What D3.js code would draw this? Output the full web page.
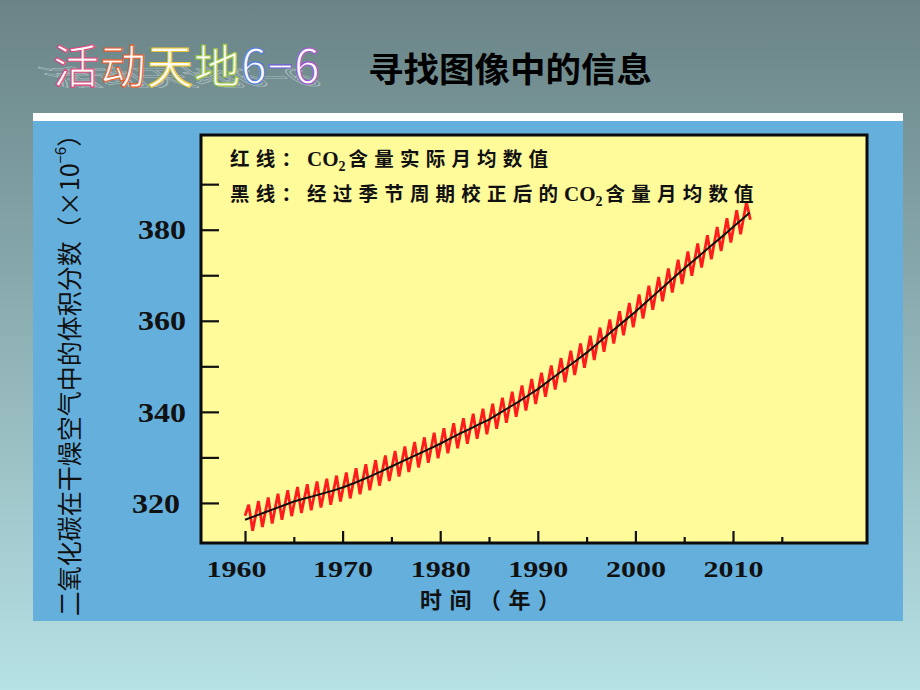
<!DOCTYPE html>
<html><head><meta charset="utf-8">
<script src="https://cdn.jsdelivr.net/npm/d3@7"></script>
<style>html,body{margin:0;padding:0;} svg{display:block}</style>
</head><body>
<svg id="c" width="920" height="690"></svg>
<script>
// ---------- data ----------
const decoChars = ["活","动","天","地","6","−","6"];
const decoColors = ["#e0457e","#e85a2a","#e8c82e","#9cc63c","#4f78e0","#6f63d6","#a04fd0"];
const mainTitle = "寻找图像中的信息";
const yAxisTitle = "二氧化碳在干燥空气中的体积分数（×10";
const yAxisTitleSup = "−6";
const xAxisTitle = "时间（年）";
const legendRedLabel = ["红线：", "含量实际月均数值"];
const legendBlackLabel = ["黑线：经过季节周期校正后的", "含量月均数值"];

const yTicks = [320, 330, 340, 350, 360, 370, 380, 390];
const yTickLabels = [320, 340, 360, 380];
const xTicks = [1960, 1965, 1970, 1975, 1980, 1985, 1990, 1995, 2000, 2005, 2010, 2015];
const xTickLabels = [1960, 1970, 1980, 1990, 2000, 2010];

// black: seasonally corrected monthly mean (read at each year start)
const trendYears = [1960,1961,1962,1963,1964,1965,1966,1967,1968,1969,1970,1971,1972,1973,1974,1975,1976,1977,1978,1979,1980,1981,1982,1983,1984,1985,1986,1987,1988,1989,1990,1991,1992,1993,1994,1995,1996,1997,1998,1999,2000,2001,2002,2003,2004,2005,2006,2007,2008,2009,2010,2011,2011.7];
const trendValues = [316.3,317.1,317.9,318.7,319.5,320.3,320.9,321.5,322.1,322.7,323.4,324.2,325.1,326.0,327.0,328.0,329.0,330.0,331.0,332.0,333.0,334.1,335.2,336.2,337.3,338.3,339.6,340.9,342.2,343.6,345.0,346.6,348.2,349.8,351.4,353.0,354.8,356.6,358.4,360.2,362.0,363.9,365.8,367.7,369.6,371.5,373.3,375.1,376.9,378.7,380.6,382.4,383.7];

// red: actual monthly mean — yearly spring peaks and autumn troughs
const seasonYears = [1960,1961,1962,1963,1964,1965,1966,1967,1968,1969,1970,1971,1972,1973,1974,1975,1976,1977,1978,1979,1980,1981,1982,1983,1984,1985,1986,1987,1988,1989,1990,1991,1992,1993,1994,1995,1996,1997,1998,1999,2000,2001,2002,2003,2004,2005,2006,2007,2008,2009,2010,2011];
const peakValues = [319.6,320.4,321.2,322.0,322.8,323.5,324.1,324.7,325.3,326.0,326.7,327.6,328.5,329.4,330.4,331.4,332.4,333.4,334.4,335.4,336.4,337.5,338.6,339.6,340.7,341.8,343.1,344.4,345.8,347.2,348.6,350.2,351.8,353.4,355.0,356.7,358.5,360.3,362.1,363.9,365.8,367.7,369.6,371.5,373.4,375.2,377.0,378.8,380.6,382.5,384.3,386.1];
const troughValues = [313.9,314.7,315.5,316.3,317.1,317.8,318.4,319.0,319.6,320.3,321.0,321.9,322.8,323.8,324.8,325.8,326.8,327.8,328.8,329.8,330.9,332.0,333.0,334.1,335.1,336.3,337.6,338.9,340.3,341.7,343.3,344.9,346.5,348.1,349.7,351.4,353.2,355.0,356.8,358.6,360.5,362.4,364.3,366.2,368.1,369.9,371.7,373.5,375.3,377.2,379.0,382.2];
const redStart = {t: 1960.0, v: 317.2};
const peakPhase = 0.38, troughPhase = 0.78;

// ---------- drawing ----------
const svg = d3.select("#c");
const defs = svg.append("defs");
const bg = defs.append("linearGradient").attr("id","bg").attr("x1",0).attr("y1",0).attr("x2",0).attr("y2",1);
bg.append("stop").attr("offset","0%").attr("stop-color","#6a8386");
bg.append("stop").attr("offset","30%").attr("stop-color","#80a0a3");
bg.append("stop").attr("offset","100%").attr("stop-color","#b6e1e5");
svg.append("rect").attr("width",920).attr("height",690).attr("fill","url(#bg)");

// decorative title
const deco = svg.append("g");
const shadow = deco.append("text")
  .attr("x",53).attr("y",84)
  .attr("font-family","'Noto Sans CJK SC'").attr("font-size",46)
  .attr("fill","none").attr("stroke","rgba(225,232,232,0.5)").attr("stroke-width",1.2)
  .attr("letter-spacing",1)
  .attr("transform","translate(8,87) scale(1,0.5) skewX(35) translate(0,-86)");
decoChars.forEach((c,i)=> shadow.append("tspan").text(c));
const dt = deco.append("text")
  .attr("x",53).attr("y",83)
  .attr("font-family","'Noto Sans CJK SC'").attr("font-size",46)
  .attr("letter-spacing",1);
decoChars.forEach((c,i)=> dt.append("tspan").text(c)
  .attr("fill", "#fbfaf6").attr("stroke", decoColors[i]).attr("stroke-width",1.1));

svg.append("text").attr("x",368).attr("y",82)
  .attr("font-family","'Noto Sans CJK SC'").attr("font-weight",700).attr("font-size",34)
  .attr("textLength",284).attr("lengthAdjust","spacingAndGlyphs")
  .attr("fill","#000").text(mainTitle);

// panel
svg.append("rect").attr("x",33).attr("y",113).attr("width",870).attr("height",8).attr("fill","#ffffff");
svg.append("rect").attr("x",33).attr("y",121).attr("width",870).attr("height",500).attr("fill","#64afdc");

const L=201, R=867, T=135, B=543;
const x = d3.scaleLinear().domain([1955.49, 2023.73]).range([L, R]);
const y = d3.scaleLinear().domain([311.2, 400.8]).range([B, T]);

svg.append("rect").attr("x",L).attr("y",T).attr("width",R-L).attr("height",B-T)
  .attr("fill","#fffb9b");

// y axis
const yAxis = svg.append("g").attr("transform",`translate(${L},0)`)
  .call(d3.axisLeft(y).tickValues(yTicks).tickSize(-18).tickPadding(15)
    .tickFormat(d => yTickLabels.includes(d) ? String(d) : ""));
yAxis.select(".domain").remove();
yAxis.selectAll(".tick line").attr("stroke","#111").attr("stroke-width",2.2);
yAxis.selectAll(".tick text")
  .attr("font-family","'Liberation Serif', serif").attr("font-weight",700).attr("font-size",27)
  .attr("fill","#111").attr("dy","0.34em")
  .attr("dx", d => d === 320 ? -6 : 0)
  .each(function(d){ if (yTickLabels.includes(d)) d3.select(this).attr("textLength",48).attr("lengthAdjust","spacingAndGlyphs"); });

// x axis
const xAxis = svg.append("g").attr("transform",`translate(0,${B})`)
  .call(d3.axisBottom(x).tickValues(xTicks).tickSize(-12)
    .tickFormat(d => xTickLabels.includes(d) ? String(d) : ""));
xAxis.select(".domain").remove();
xAxis.selectAll(".tick line").attr("stroke","#111").attr("stroke-width",2.2)
  .attr("y2", d => d % 10 === 0 ? -12 : -6);
xAxis.selectAll(".tick text")
  .attr("font-family","'Liberation Serif', serif").attr("font-weight",700).attr("font-size",23)
  .attr("fill","#111").attr("y",34).attr("dy",0)
  .attr("dx", d => d === 1960 ? -9 : 0)
  .each(function(d){ if (xTickLabels.includes(d)) d3.select(this).attr("textLength",60).attr("lengthAdjust","spacingAndGlyphs"); });

// red seasonal line
const redPts = [redStart];
seasonYears.forEach((yr,i)=>{
  redPts.push({t: yr + peakPhase, v: peakValues[i]});
  redPts.push({t: yr + troughPhase, v: troughValues[i]});
});
const line = d3.line().x(d=>x(d.t)).y(d=>y(d.v));
svg.append("path").attr("d", line(redPts)).attr("fill","none")
  .attr("stroke","#ff1c1c").attr("stroke-width",2.8).attr("stroke-linejoin","miter");

// black trend line
const trendPts = trendYears.map((t,i)=>({t, v: trendValues[i]}));
svg.append("path").attr("d", line(trendPts)).attr("fill","none")
  .attr("stroke","#111").attr("stroke-width",2);

// frame
svg.append("rect").attr("x",L).attr("y",T).attr("width",R-L).attr("height",B-T)
  .attr("fill","none").attr("stroke","#0b0b0b").attr("stroke-width",3);

// legend
function legendLine(yy, parts){
  const t = svg.append("text").attr("x",230).attr("y",yy)
    .attr("font-family","'Noto Sans CJK SC'").attr("font-weight",700).attr("font-size",19.5)
    .attr("letter-spacing",6.2).attr("fill","#111");
  t.append("tspan").text(parts[0]);
  t.append("tspan").attr("font-family","'Liberation Serif', serif").attr("font-size",21).attr("letter-spacing",0).text("CO");
  t.append("tspan").attr("font-family","'Liberation Serif', serif").attr("font-size",14).attr("dy",5).attr("letter-spacing",3).text("2");
  t.append("tspan").attr("dy",-5).text(parts[1]);
}
legendLine(166, legendRedLabel);
legendLine(201, legendBlackLabel);

// axis titles
const yt = svg.append("text").attr("transform","translate(68,369) rotate(-90)")
  .attr("text-anchor","middle").attr("dominant-baseline","central")
  .attr("font-family","'Noto Sans CJK SC'").attr("font-size",25).attr("fill","#111");
yt.append("tspan").text(yAxisTitle);
yt.append("tspan").attr("font-size",15).attr("dy",-9).text(yAxisTitleSup);
yt.append("tspan").attr("dy",9).text("）");

svg.append("text").attr("x",490).attr("y",608).attr("text-anchor","middle")
  .attr("font-family","'Noto Sans CJK SC'").attr("font-weight",700).attr("font-size",22)
  .attr("textLength",140).attr("lengthAdjust","spacing")
  .attr("fill","#111").text(xAxisTitle);
</script>
</body></html>
